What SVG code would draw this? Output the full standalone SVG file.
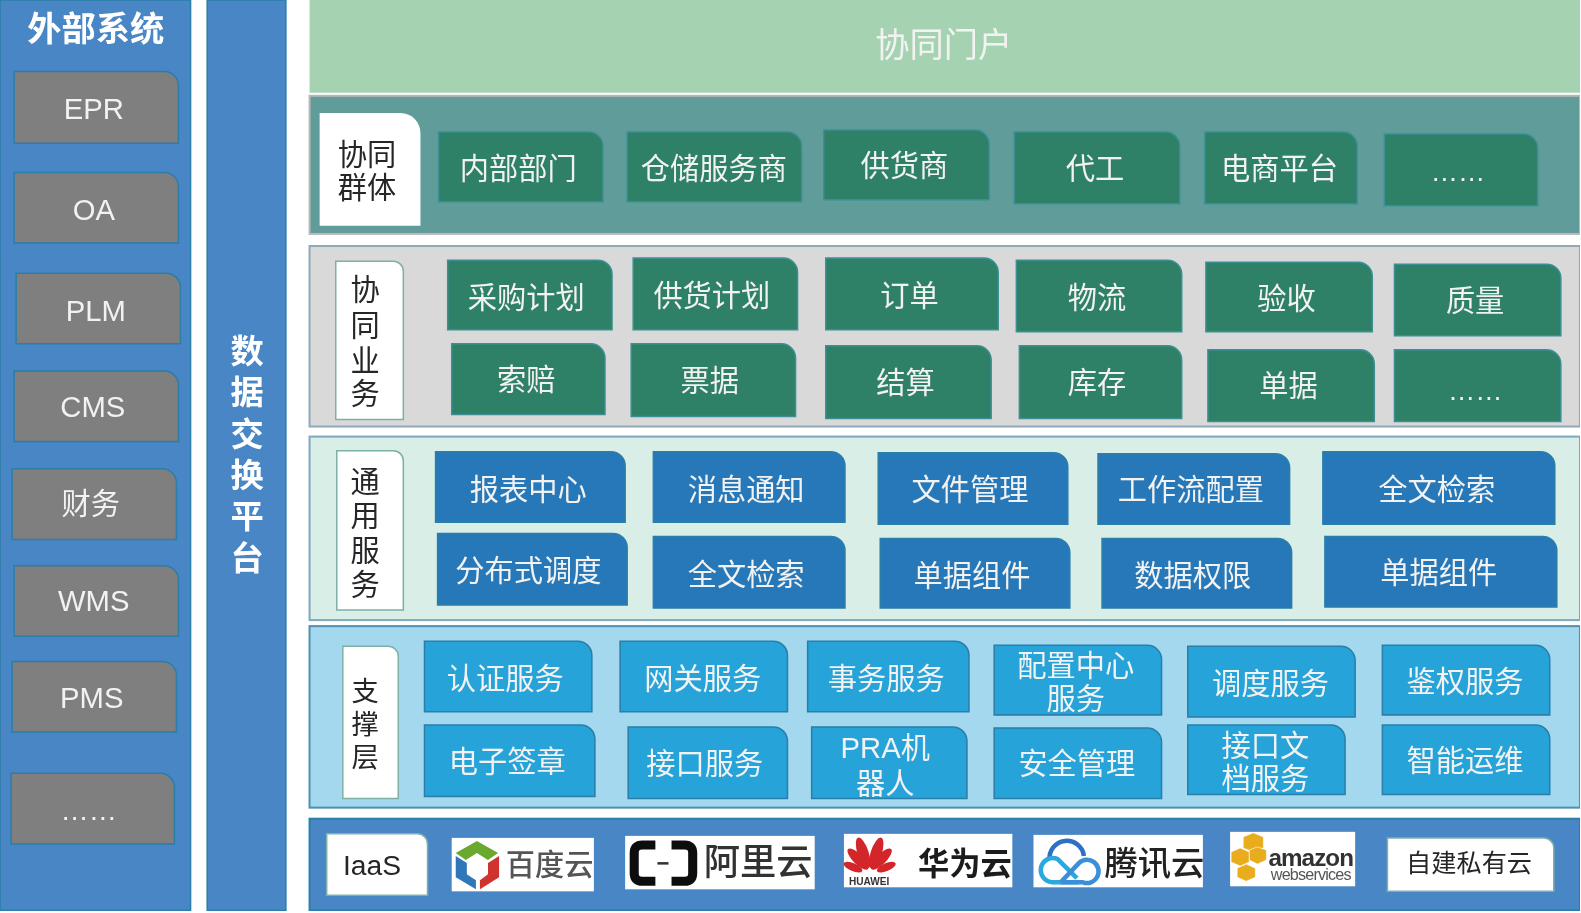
<svg xmlns="http://www.w3.org/2000/svg" width="1581" height="913" viewBox="0 0 1581 913">
<style>
text{font-family:"Noto Sans CJK SC","Liberation Sans",sans-serif;font-size:29px;text-anchor:middle}
.ext{fill:#4a86c5;stroke:#2a7ea8;stroke-width:1.5}
.grey{fill:#7f7f7f;stroke:#2a7ea8;stroke-width:1.5}
.teal{fill:#2f8066;stroke:#3a8f95;stroke-width:1.5}
.blue{fill:#2878b8;stroke:#2a7ea8;stroke-width:1.5}
.sky{fill:#26a3d9;stroke:#2a7ea8;stroke-width:1.5}
.wh{fill:#fff;stroke:#7fb0a8;stroke-width:1.5}
.t{fill:#f2f2f2}
.d{fill:#262626}
.lat{font-family:"Liberation Sans",sans-serif}
</style>
<defs><filter id="soft" x="0" y="0" width="100%" height="100%"><feGaussianBlur stdDeviation="0.5"/></filter></defs>
<g transform="scale(1.00829)" filter="url(#soft)">
<g id="external">
<rect class="ext" x="0" y="0" width="189" height="903"/>
<text x="95" y="41" style="font-size:34px;font-weight:700;fill:#fff">外部系统</text>
<g id="ext-epr"><path class="grey" d="M14 71H163A14 14 0 0 1 177 85V142H14Z"/><text class="t lat" x="93" y="118">EPR</text></g>
<g id="ext-oa"><path class="grey" d="M14 171H163A14 14 0 0 1 177 185V241H14Z"/><text class="t lat" x="93" y="218">OA</text></g>
<g id="ext-plm"><path class="grey" d="M16 271H165A14 14 0 0 1 179 285V341H16Z"/><text class="t lat" x="95" y="318">PLM</text></g>
<g id="ext-cms"><path class="grey" d="M14 368H163A14 14 0 0 1 177 382V438H14Z"/><text class="t lat" x="92" y="414">CMS</text></g>
<g id="ext-fin"><path class="grey" d="M12 465H161A14 14 0 0 1 175 479V535H12Z"/><text class="t" x="90" y="510">财务</text></g>
<g id="ext-wms"><path class="grey" d="M14 561H163A14 14 0 0 1 177 575V631H14Z"/><text class="t lat" x="93" y="606">WMS</text></g>
<g id="ext-pms"><path class="grey" d="M12 656H161A14 14 0 0 1 175 670V726H12Z"/><text class="t lat" x="91" y="702">PMS</text></g>
<g id="ext-more"><path class="grey" d="M11 767H159A14 14 0 0 1 173 781V837H11Z"/><text class="t lat" x="88" y="813" style="font-size:28px">……</text></g>
</g>
<g id="exchange">
<rect class="ext" x="205.5" y="0" width="78" height="903"/>
<text x="245" y="360" style="font-size:33px;font-weight:700;fill:#fff"><tspan x="245">数</tspan><tspan x="245" dy="41">据</tspan><tspan x="245" dy="41">交</tspan><tspan x="245" dy="41">换</tspan><tspan x="245" dy="41">平</tspan><tspan x="245" dy="41">台</tspan></text>
</g>
<g id="portal">
<rect x="307" y="0" width="1260" height="92" fill="#a5d3b1"/>
<text x="936" y="57" style="font-size:34px;fill:#f2f2f2">协同门户</text>
</g>
<g id="group-collab">
<rect x="307" y="95" width="1260" height="137" fill="#5e9c9a" stroke="#b9b9b9" stroke-width="2"/>
<g id="label-collab"><path fill="#fff" d="M317 112H397A20 20 0 0 1 417 132V224H317Z"/><text class="d" x="364" y="164">协同</text><text class="d" x="364" y="196">群体</text></g>
<g id="c1"><path class="teal" d="M435 131H584A14 14 0 0 1 598 145V200H435Z"/><text class="t" x="514" y="178">内部部门</text></g>
<g id="c2"><path class="teal" d="M622 131H781A14 14 0 0 1 795 145V200H622Z"/><text class="t" x="708" y="178">仓储服务商</text></g>
<g id="c3"><path class="teal" d="M817 129H967A14 14 0 0 1 981 143V198H817Z"/><text class="t" x="897" y="175">供货商</text></g>
<g id="c4"><path class="teal" d="M1006 131H1156A14 14 0 0 1 1170 145V202H1006Z"/><text class="t" x="1086" y="178">代工</text></g>
<g id="c5"><path class="teal" d="M1195 131H1332A14 14 0 0 1 1346 145V202H1195Z"/><text class="t" x="1269" y="178">电商平台</text></g>
<g id="c6"><path class="teal" d="M1373 133H1511A14 14 0 0 1 1525 147V204H1373Z"/><text class="t lat" x="1446" y="180" style="font-size:27px">……</text></g>
</g>
<g id="group-biz">
<rect x="307" y="244" width="1260" height="179" fill="#d9d9d9" stroke="#8fa9b8" stroke-width="2"/>
<g id="label-biz"><path class="wh" d="M333 259H390A10 10 0 0 1 400 269V416H333Z"/><text class="d" x="362" y="298"><tspan x="362">协</tspan><tspan x="362" dy="35">同</tspan><tspan x="362" dy="35">业</tspan><tspan x="362" dy="33">务</tspan></text></g>
<g id="b1"><path class="teal" d="M444 258H593A14 14 0 0 1 607 272V327H444Z"/><text class="t" x="522" y="305">采购计划</text></g>
<g id="b2"><path class="teal" d="M628 256H777A14 14 0 0 1 791 270V327H628Z"/><text class="t" x="706" y="303">供货计划</text></g>
<g id="b3"><path class="teal" d="M819 256H976A14 14 0 0 1 990 270V327H819Z"/><text class="t" x="902" y="303">订单</text></g>
<g id="b4"><path class="teal" d="M1008 258H1158A14 14 0 0 1 1172 272V329H1008Z"/><text class="t" x="1088" y="305">物流</text></g>
<g id="b5"><path class="teal" d="M1196 260H1347A14 14 0 0 1 1361 274V329H1196Z"/><text class="t" x="1276" y="306">验收</text></g>
<g id="b6"><path class="teal" d="M1383 262H1534A14 14 0 0 1 1548 276V333H1383Z"/><text class="t" x="1463" y="308">质量</text></g>
<g id="b7"><path class="teal" d="M448 341H586A14 14 0 0 1 600 355V411H448Z"/><text class="t" x="522" y="387">索赔</text></g>
<g id="b8"><path class="teal" d="M626 341H775A14 14 0 0 1 789 355V413H626Z"/><text class="t" x="704" y="388">票据</text></g>
<g id="b9"><path class="teal" d="M819 343H969A14 14 0 0 1 983 357V415H819Z"/><text class="t" x="898" y="390">结算</text></g>
<g id="b10"><path class="teal" d="M1011 343H1158A14 14 0 0 1 1172 357V415H1011Z"/><text class="t" x="1088" y="390">库存</text></g>
<g id="b11"><path class="teal" d="M1198 347H1349A14 14 0 0 1 1363 361V418H1198Z"/><text class="t" x="1278" y="393">单据</text></g>
<g id="b12"><path class="teal" d="M1383 347H1534A14 14 0 0 1 1548 361V418H1383Z"/><text class="t lat" x="1463" y="397" style="font-size:27px">……</text></g>
</g>
<g id="group-common">
<rect x="307" y="433" width="1260" height="182" fill="#d8eee6" stroke="#7fa9c0" stroke-width="2"/>
<g id="label-common"><path class="wh" d="M334 447H390A10 10 0 0 1 400 457V605H334Z"/><text class="d" x="362" y="488"><tspan x="362">通</tspan><tspan x="362" dy="34">用</tspan><tspan x="362" dy="34">服</tspan><tspan x="362" dy="34">务</tspan></text></g>
<g id="s1"><path class="blue" d="M432 448H606A14 14 0 0 1 620 462V518H432Z"/><text class="t" x="524" y="496">报表中心</text></g>
<g id="s2"><path class="blue" d="M648 448H824A14 14 0 0 1 838 462V518H648Z"/><text class="t" x="740" y="496">消息通知</text></g>
<g id="s3"><path class="blue" d="M871 449H1045A14 14 0 0 1 1059 463V520H871Z"/><text class="t" x="962" y="496">文件管理</text></g>
<g id="s4"><path class="blue" d="M1089 450H1265A14 14 0 0 1 1279 464V520H1089Z"/><text class="t" x="1181" y="496">工作流配置</text></g>
<g id="s5"><path class="blue" d="M1312 448H1528A14 14 0 0 1 1542 462V520H1312Z"/><text class="t" x="1425" y="496">全文检索</text></g>
<g id="s6"><path class="blue" d="M434 529H608A14 14 0 0 1 622 543V600H434Z"/><text class="t" x="524" y="576">分布式调度</text></g>
<g id="s7"><path class="blue" d="M648 532H824A14 14 0 0 1 838 546V603H648Z"/><text class="t" x="740" y="580">全文检索</text></g>
<g id="s8"><path class="blue" d="M873 534H1047A14 14 0 0 1 1061 548V603H873Z"/><text class="t" x="964" y="581">单据组件</text></g>
<g id="s9"><path class="blue" d="M1093 534H1267A14 14 0 0 1 1281 548V603H1093Z"/><text class="t" x="1183" y="581">数据权限</text></g>
<g id="s10"><path class="blue" d="M1314 532H1530A14 14 0 0 1 1544 546V602H1314Z"/><text class="t" x="1427" y="578">单据组件</text></g>
</g>
<g id="group-support">
<rect x="307" y="621" width="1260" height="180" fill="#a3d8ef" stroke="#4f8fb0" stroke-width="2"/>
<g id="label-support"><path class="wh" d="M340 641H385A10 10 0 0 1 395 651V792H340Z"/><text class="d" x="362" y="695" style="font-size:27px"><tspan x="362">支</tspan><tspan x="362" dy="33">撑</tspan><tspan x="362" dy="33">层</tspan></text></g>
<g id="p1"><path class="sky" d="M421 636H573A14 14 0 0 1 587 650V706H421Z"/><text class="t" x="501" y="683">认证服务</text></g>
<g id="p2"><path class="sky" d="M615 636H767A14 14 0 0 1 781 650V706H615Z"/><text class="t" x="697" y="683">网关服务</text></g>
<g id="p3"><path class="sky" d="M801 636H947A14 14 0 0 1 961 650V706H801Z"/><text class="t" x="879" y="683">事务服务</text></g>
<g id="p4"><path class="sky" d="M986 640H1138A14 14 0 0 1 1152 654V709H986Z"/><text class="t" x="1067" y="670">配置中心</text><text class="t" x="1067" y="703">服务</text></g>
<g id="p5"><path class="sky" d="M1178 641H1330A14 14 0 0 1 1344 655V711H1178Z"/><text class="t" x="1260" y="688">调度服务</text></g>
<g id="p6"><path class="sky" d="M1371 640H1523A14 14 0 0 1 1537 654V709H1371Z"/><text class="t" x="1453" y="686">鉴权服务</text></g>
<g id="p7"><path class="sky" d="M421 719H576A14 14 0 0 1 590 733V790H421Z"/><text class="t" x="503" y="766">电子签章</text></g>
<g id="p8"><path class="sky" d="M623 721H767A14 14 0 0 1 781 735V792H623Z"/><text class="t" x="699" y="768">接口服务</text></g>
<g id="p9"><path class="sky" d="M805 721H945A14 14 0 0 1 959 735V792H805Z"/><text class="t lat" x="878" y="752"><tspan>PRA</tspan><tspan style="font-family:'Noto Sans CJK SC',sans-serif">机</tspan></text><text class="t" x="878" y="787">器人</text></g>
<g id="p10"><path class="sky" d="M986 722H1138A14 14 0 0 1 1152 736V792H986Z"/><text class="t" x="1068" y="768">安全管理</text></g>
<g id="p11"><path class="sky" d="M1178 719H1320A14 14 0 0 1 1334 733V788H1178Z"/><text class="t" x="1255" y="750">接口文</text><text class="t" x="1255" y="783">档服务</text></g>
<g id="p12"><path class="sky" d="M1371 719H1523A14 14 0 0 1 1537 733V788H1371Z"/><text class="t" x="1453" y="765">智能运维</text></g>
</g>
<g id="group-iaas">
<rect x="307" y="812" width="1260" height="91" fill="#4a86c5" stroke="#2a7ea8" stroke-width="2"/>
<g id="label-iaas"><path class="wh" d="M324 827H414A10 10 0 0 1 424 837V888H324Z"/><text class="d lat" x="369" y="868" style="font-size:28px">IaaS</text></g>
<g id="baidu"><rect x="448" y="831" width="141" height="53" fill="#fff"/>
<polygon points="473,834 494,846 484,853 473,846 462,853 452,846" fill="#6aa82e"/>
<polygon points="452,849 463,856 463,867 472,873 472,882 452,870" fill="#2f77b8"/>
<polygon points="495,849 495,870 476,882 476,873 484,867 484,856" fill="#d0312d"/>
<text x="545" y="868" style="font-size:29px;font-weight:500;fill:#555">百度云</text></g>
<g id="aliyun"><rect x="620" y="829" width="188" height="53" fill="#fff"/>
<path d="M650 838H637Q629 838 629 846V866Q629 874 637 874H650" fill="none" stroke="#111" stroke-width="9"/>
<path d="M666 838H679Q687 838 687 846V866Q687 874 679 874H666" fill="none" stroke="#111" stroke-width="9"/>
<rect x="652" y="855" width="11" height="2.5" fill="#333"/>
<text x="752" y="868" style="font-size:36px;font-weight:500;fill:#333">阿里云</text></g>
<g id="huawei"><rect x="837" y="827" width="167" height="53" fill="#fff"/>
<g fill="#d3262b"><ellipse cx="851" cy="852" rx="5" ry="14" transform="rotate(-45 851 852)"/><ellipse cx="856" cy="846" rx="5.5" ry="16" transform="rotate(-18 856 846)"/><ellipse cx="869" cy="846" rx="5.5" ry="16" transform="rotate(18 869 846)"/><ellipse cx="874" cy="852" rx="5" ry="14" transform="rotate(45 874 852)"/><ellipse cx="846" cy="860" rx="4" ry="10" transform="rotate(-68 846 860)"/><ellipse cx="879" cy="860" rx="4" ry="10" transform="rotate(68 879 860)"/></g>
<text class="lat" x="862" y="878" style="font-size:10px;font-weight:700;fill:#333">HUAWEI</text>
<text x="957" y="868" style="font-size:31px;font-weight:700;fill:#1a1a1a">华为云</text></g>
<g id="tencent"><rect x="1025" y="828" width="168" height="52" fill="#fff"/>
<path d="M1041 853A17 17 0 0 1 1075 849" fill="none" stroke="#2f6fc4" stroke-width="4.5"/>
<path d="M1070 875H1044A12 12 0 1 1 1049 852L1068 871" fill="none" stroke="#29a9e0" stroke-width="4.5"/>
<path d="M1052 875L1070 856A11.500 11.500 0 1 1 1074 875H1052" fill="none" stroke="#3a8fd8" stroke-width="4.5"/>
<text x="1145" y="868" style="font-size:33px;font-weight:500;fill:#222">腾讯云</text></g>
<g id="amazon"><rect x="1220" y="825" width="124" height="54" fill="#fff"/>
<g fill="#e8ac1e" stroke="#fff" stroke-width=".6"><polygon points="1233,830 1243,826 1253,830 1253,841 1243,845 1233,841"/><polygon points="1221,845 1230,841 1239,845 1239,855 1230,859 1221,855"/><polygon points="1239,843 1247,840 1256,843 1256,853 1247,857 1239,853"/><polygon points="1227,861 1236,857 1245,861 1245,870 1236,874 1227,870"/></g>
<text class="lat" x="1300" y="859" style="font-size:24px;font-weight:700;fill:#333;letter-spacing:-.9px">amazon</text>
<text class="lat" x="1300" y="873" style="font-size:16px;fill:#555;letter-spacing:-.8px">webservices</text></g>
<g id="private"><path class="wh" d="M1376 831H1531A10 10 0 0 1 1541 841V884H1376Z"/><text class="d" x="1457" y="865" style="font-size:25px">自建私有云</text></g>
</g>
</g>
</svg>
